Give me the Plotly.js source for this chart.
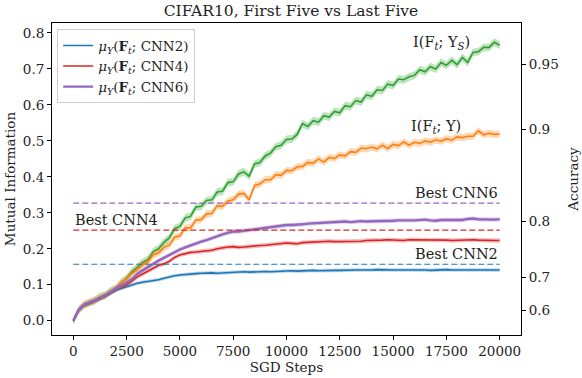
<!DOCTYPE html>
<html>
<head>
<meta charset="utf-8">
<script src="https://cdn.plot.ly/plotly-3.0.1.min.js"></script>
<style>
  html, body { margin: 0; padding: 0; background: #fff; }
  #chart { width: 582px; height: 378px; }
</style>
</head>
<body>
<div id="chart"></div>
<script>
// SGD step grid (every 250 steps)
const steps = [
  0, 250, 500, 750, 1000, 1250, 1500, 1750, 2000, 2250,
  2500, 2750, 3000, 3250, 3500, 3750, 4000, 4250, 4500, 4750,
  5000, 5250, 5500, 5750, 6000, 6250, 6500, 6750, 7000, 7250,
  7500, 7750, 8000, 8250, 8500, 8750, 9000, 9250, 9500, 9750,
  10000, 10250, 10500, 10750, 11000, 11250, 11500, 11750, 12000, 12250,
  12500, 12750, 13000, 13250, 13500, 13750, 14000, 14250, 14500, 14750,
  15000, 15250, 15500, 15750, 16000, 16250, 16500, 16750, 17000, 17250,
  17500, 17750, 18000, 18250, 18500, 18750, 19000, 19250, 19500, 19750,
  20000
];

// I(F_t; Y_S)
const miYS = [
  0, 0.030, 0.044, 0.050, 0.056, 0.066, 0.071, 0.083, 0.090, 0.106,
  0.118, 0.136, 0.148, 0.162, 0.170, 0.192, 0.200, 0.218, 0.230, 0.256,
  0.262, 0.286, 0.290, 0.316, 0.318, 0.334, 0.336, 0.358, 0.360, 0.384,
  0.386, 0.408, 0.414, 0.402, 0.436, 0.440, 0.458, 0.466, 0.484, 0.488,
  0.504, 0.505, 0.518, 0.548, 0.540, 0.556, 0.552, 0.570, 0.566, 0.582,
  0.578, 0.598, 0.595, 0.612, 0.608, 0.628, 0.624, 0.642, 0.640, 0.658,
  0.654, 0.672, 0.670, 0.678, 0.682, 0.698, 0.692, 0.706, 0.700, 0.718,
  0.710, 0.724, 0.712, 0.732, 0.718, 0.746, 0.748, 0.760, 0.760, 0.774,
  0.766
];

// I(F_t; Y)
const miY = [
  0, 0.030, 0.045, 0.051, 0.056, 0.066, 0.070, 0.082, 0.090, 0.106,
  0.116, 0.132, 0.142, 0.156, 0.163, 0.184, 0.188, 0.204, 0.210, 0.232,
  0.236, 0.258, 0.258, 0.280, 0.281, 0.297, 0.298, 0.320, 0.318, 0.333,
  0.336, 0.352, 0.354, 0.336, 0.376, 0.380, 0.392, 0.392, 0.406, 0.404,
  0.418, 0.417, 0.428, 0.429, 0.440, 0.438, 0.450, 0.441, 0.454, 0.451,
  0.461, 0.458, 0.470, 0.468, 0.480, 0.478, 0.483, 0.478, 0.488, 0.479,
  0.490, 0.487, 0.497, 0.488, 0.496, 0.493, 0.500, 0.496, 0.503, 0.499,
  0.506, 0.502, 0.511, 0.509, 0.513, 0.513, 0.528, 0.517, 0.521, 0.518,
  0.519
];

const cnn2 = [
  0, 0.029, 0.043, 0.048, 0.055, 0.061, 0.068, 0.076, 0.085, 0.090,
  0.094, 0.099, 0.104, 0.107, 0.109, 0.111, 0.114, 0.118, 0.122, 0.125,
  0.127, 0.129, 0.130, 0.131, 0.132, 0.133, 0.133, 0.132, 0.133, 0.134,
  0.134, 0.135, 0.136, 0.135, 0.136, 0.137, 0.137, 0.136, 0.137, 0.138,
  0.138, 0.139, 0.138, 0.139, 0.140, 0.140, 0.139, 0.140, 0.141, 0.140,
  0.140, 0.141, 0.140, 0.141, 0.141, 0.140, 0.141, 0.142, 0.141, 0.140,
  0.141, 0.141, 0.142, 0.141, 0.141, 0.142, 0.141, 0.140, 0.141, 0.142,
  0.142, 0.141, 0.141, 0.142, 0.141, 0.141, 0.142, 0.141, 0.141, 0.142,
  0.141
];

const cnn4 = [
  0, 0.029, 0.043, 0.048, 0.055, 0.062, 0.069, 0.078, 0.088, 0.093,
  0.100, 0.110, 0.122, 0.130, 0.137, 0.146, 0.154, 0.158, 0.165, 0.176,
  0.183, 0.187, 0.190, 0.191, 0.192, 0.194, 0.196, 0.200, 0.203, 0.205,
  0.206, 0.204, 0.205, 0.207, 0.208, 0.209, 0.210, 0.212, 0.214, 0.215,
  0.216, 0.215, 0.214, 0.217, 0.218, 0.219, 0.219, 0.220, 0.221, 0.220,
  0.220, 0.222, 0.222, 0.221, 0.221, 0.223, 0.223, 0.222, 0.224, 0.225,
  0.224, 0.224, 0.223, 0.225, 0.225, 0.224, 0.225, 0.225, 0.226, 0.224,
  0.224, 0.223, 0.224, 0.225, 0.224, 0.225, 0.224, 0.223, 0.224, 0.223,
  0.223
];

const cnn6 = [
  0, 0.030, 0.044, 0.049, 0.056, 0.063, 0.070, 0.079, 0.090, 0.097,
  0.106, 0.116, 0.130, 0.140, 0.150, 0.158, 0.167, 0.175, 0.182, 0.192,
  0.198, 0.204, 0.210, 0.214, 0.220, 0.224, 0.230, 0.236, 0.240, 0.244,
  0.248, 0.248, 0.250, 0.252, 0.256, 0.256, 0.258, 0.260, 0.262, 0.264,
  0.266, 0.266, 0.266, 0.268, 0.270, 0.271, 0.272, 0.271, 0.273, 0.274,
  0.275, 0.276, 0.274, 0.276, 0.277, 0.276, 0.276, 0.277, 0.278, 0.277,
  0.278, 0.279, 0.280, 0.279, 0.279, 0.280, 0.281, 0.279, 0.278, 0.280,
  0.280, 0.279, 0.278, 0.280, 0.283, 0.284, 0.282, 0.281, 0.282, 0.281,
  0.282
];

// spread of the shaded bands (one value per series)
const spreads = { ys: 0.011, y: 0.010, cnn2: 0.005, cnn4: 0.006, cnn6: 0.006 };

// best accuracy levels of each CNN, expressed on the MI axis
const bestNames = ["Best CNN2", "Best CNN4", "Best CNN6"];
const bestVals = [0.157, 0.252, 0.327];

// right-hand accuracy axis: labels and where they sit on the MI scale
const accTickText = ["0.6", "0.7", "0.8", "0.9", "0.95"];
const accTickMI = [0.029, 0.121, 0.276, 0.532, 0.713];

const xTicks = [0, 2500, 5000, 7500, 10000, 12500, 15000, 17500, 20000];

const COLORS = {
  blue: "#1f77b4",
  red: "#d62728",
  purple: "#9467bd",
  green: "#2ca02c",
  orange: "#ff7f0e",
};

const hexToRgba = (hex, a) => {
  const n = parseInt(hex.slice(1), 16);
  return `rgba(${(n >> 16) & 255},${(n >> 8) & 255},${n & 255},${a})`;
};

const bandTraces = (ys, spread, color, name, width, showlegend) => {
  const lower = ys.map((v) => v - spread);
  const upper = ys.map((v) => v + spread);
  return [
    {
      x: steps, y: lower, mode: "lines", line: { width: 0, color: color },
      showlegend: false, hoverinfo: "skip",
    },
    {
      x: steps, y: upper, mode: "lines", line: { width: 0, color: color },
      fill: "tonexty", fillcolor: hexToRgba(color, 0.3),
      showlegend: false, hoverinfo: "skip",
    },
    {
      x: steps, y: ys, mode: "lines", name: name,
      line: { width: width, color: color },
      showlegend: showlegend,
    },
  ];
};

const serif = "DejaVu Serif, serif";
const txt = "#222";

const traces = [
  ...bandTraces(miYS, spreads.ys, COLORS.green, "I(F_t; Y_S)", 1.6, false),
  ...bandTraces(miY, spreads.y, COLORS.orange, "I(F_t; Y)", 1.6, false),
  ...bandTraces(cnn2, spreads.cnn2, COLORS.blue, "<i>μ<sub>Y</sub></i>(<b>F</b><sub><i>t</i></sub>; CNN2)", 1.6, true),
  ...bandTraces(cnn4, spreads.cnn4, COLORS.red, "<i>μ<sub>Y</sub></i>(<b>F</b><sub><i>t</i></sub>; CNN4)", 1.6, true),
  ...bandTraces(cnn6, spreads.cnn6, COLORS.purple, "<i>μ<sub>Y</sub></i>(<b>F</b><sub><i>t</i></sub>; CNN6)", 2.4, true),
];

// invisible trace so the accuracy axis is drawn
traces.push({
  x: [0], y: [0], yaxis: "y2", mode: "markers",
  marker: { opacity: 0 }, showlegend: false, hoverinfo: "skip",
});

const bestColors = [COLORS.blue, COLORS.red, COLORS.purple];
const shapes = bestVals.map((v, i) => ({
  type: "line", xref: "x", yref: "y",
  x0: 0, x1: 20000, y0: v, y1: v,
  line: { color: bestColors[i], width: 1.1, dash: "6px,3px" },
}));

const annFont = { family: serif, size: 14.5, color: txt };
const annotations = [
  { x: 20000, y: bestVals[0], text: bestNames[0], xanchor: "right" },
  { x: 0, y: bestVals[1], text: bestNames[1], xanchor: "left" },
  { x: 20000, y: bestVals[2], text: bestNames[2], xanchor: "right" },
  { x: 18700, y: 0.771, text: "I(F<sub><i>t</i></sub>; Y<sub><i>S</i></sub>)", xanchor: "right", yanchor: "middle" },
  { x: 18300, y: 0.538, text: "I(F<sub><i>t</i></sub>; Y)", xanchor: "right", yanchor: "middle" },
].map((a) => ({
  yanchor: "bottom", ...a,
  xref: "x", yref: "y", showarrow: false, font: annFont,
}));

const tickFont = { family: serif, size: 13.5, color: txt };
const axisTitleFont = { family: serif, size: 13.5, color: txt };

const layout = {
  width: 582,
  height: 378,
  margin: { l: 52, r: 61, t: 23, b: 43 },
  paper_bgcolor: "#fff",
  plot_bgcolor: "#fff",
  font: { family: serif, size: 13, color: txt },
  title: {
    text: "CIFAR10, First Five vs Last Five",
    font: { family: serif, size: 15.5, color: txt },
    x: 0.5, xanchor: "center", y: 0.972, yanchor: "middle",
  },
  showlegend: true,
  legend: {
    x: 0.011, y: 0.98, xanchor: "left", yanchor: "top",
    traceorder: "normal",
    bgcolor: "rgba(255,255,255,0.85)",
    bordercolor: "#cccccc", borderwidth: 1,
    font: { family: serif, size: 13.5, color: txt },
  },
  xaxis: {
    range: [-1000, 21000],
    tickvals: xTicks,
    ticktext: xTicks.map(String),
    ticks: "outside", ticklen: 4, tickcolor: "#000",
    showline: true, linecolor: "#000", linewidth: 1, mirror: true,
    showgrid: false, zeroline: false,
    tickfont: tickFont,
    title: { text: "SGD Steps", font: axisTitleFont, standoff: 4 },
  },
  yaxis: {
    range: [-0.0397, 0.8277],
    dtick: 0.1, tick0: 0, tickformat: ".1f",
    ticks: "outside", ticklen: 4, tickcolor: "#000",
    showline: true, linecolor: "#000", linewidth: 1, mirror: true,
    showgrid: false, zeroline: false,
    tickfont: tickFont,
    title: { text: "Mutual Information", font: axisTitleFont, standoff: 4 },
  },
  yaxis2: {
    overlaying: "y", side: "right",
    range: [-0.0397, 0.8277],
    tickmode: "array", tickvals: accTickMI, ticktext: accTickText,
    ticks: "outside", ticklen: 4, tickcolor: "#000",
    showline: false, showgrid: false, zeroline: false,
    tickfont: tickFont,
    title: { text: "Accuracy", font: axisTitleFont, standoff: 10 },
  },
  shapes: shapes,
  annotations: annotations,
};

Plotly.newPlot("chart", traces, layout, { staticPlot: true, displayModeBar: false });
</script>
</body>
</html>
